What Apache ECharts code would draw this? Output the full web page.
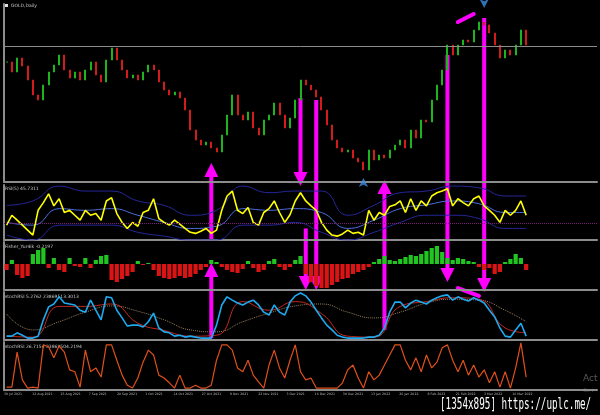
<!DOCTYPE html>
<html>
<head>
<meta charset="utf-8">
<script src="https://cdn.jsdelivr.net/npm/echarts@6/dist/echarts.min.js"></script>
<style>
  html, body { margin: 0; padding: 0; background: #000; }
  #chart { width: 600px; height: 415px; }
</style>
</head>
<body>
<div id="chart"></div>
<script>
// --- 数据 ---
const closes = [1940,1920,1948,1932,1904,1874,1864,1894,1920,1934,
  1954,1924,1908,1920,1904,1924,1940,1914,1900,1944,
  1968,1944,1924,1908,1914,1904,1920,1934,1924,1900,
  1884,1874,1880,1868,1844,1804,1784,1774,1780,1768,
  1760,1794,1834,1874,1834,1824,1840,1808,1794,1824,
  1834,1858,1834,1808,1828,1864,1904,1894,1884,1870,
  1844,1814,1784,1768,1760,1764,1748,1740,1724,1764,
  1744,1754,1748,1764,1774,1784,1768,1804,1788,1824,
  1820,1864,1894,1924,1974,1954,1974,1984,1980,2004,
  2020,2014,1998,1974,1948,1964,1954,1974,2004,1974];
const levelPrice = 1972;
const arrowUp = [[68, 1708]];
const arrowDown = [[91, 2048]];

const rsi = [27,45,36,27,18,9,54,68,84,62,
  75,50,54,45,36,54,45,48,36,71,
  77,48,32,21,32,25,50,54,75,39,
  32,27,36,29,21,14,12,16,21,12,
  18,54,80,89,54,48,59,32,27,50,
  57,71,50,32,46,71,86,71,62,54,
  32,18,9,7,11,18,12,14,9,54,
  36,50,45,61,64,71,50,75,54,71,
  62,80,86,89,93,62,75,68,62,75,
  80,62,54,45,32,54,45,54,71,45];
const bandIdx = [0,5,10,15,20,25,30,35,40,45,50,55,60,65,70,75,80,85,90,95,99];
const rsiUpper = [63,71,98,89,89,71,63,45,54,98,86,89,89,45,63,86,89,98,95,80,80];
const rsiMid = [32,27,57,54,57,45,32,21,25,57,54,57,50,21,36,57,64,71,66,50,50];
const rsiLower = [9,0,27,27,27,14,7,0,0,27,27,32,14,0,14,32,45,45,39,21,21];

const fisher = [-0.6,0.4,-1.1,-1.4,-1.2,1.0,1.4,1.6,-0.4,0.6,
  -0.6,-0.8,0.6,-0.2,-0.3,0.6,-0.4,0.4,0.8,0.9,
  -1.6,-1.8,-1.5,-1.2,-0.8,0.3,-0.1,0.1,-0.6,-1.2,
  -1.4,-1.5,-1.4,-1.2,-1.4,-1.3,-1.0,-0.6,-0.3,0.4,
  0.2,-0.3,-0.6,-0.8,-0.9,-0.5,0.3,-0.4,-0.8,-0.6,
  0.3,0.5,-0.3,-0.6,-0.3,0.4,0.8,-1.0,-1.8,-2.2,
  -2.4,-2.4,-2.1,-1.8,-1.5,-1.4,-1.0,-0.8,-0.6,-0.3,
  0.2,0.5,0.8,0.4,0.3,0.5,0.7,0.9,0.8,1.0,
  1.3,1.6,1.8,1.2,0.6,0.4,0.6,0.5,0.3,0.2,
  -0.3,-0.6,-0.4,-1.0,-0.8,0.2,0.5,1.0,0.6,-0.6];

const stoch = [8,8,15,10,4,4,8,42,69,75,
  90,77,75,73,62,58,83,62,42,90,
  88,62,46,29,31,31,27,38,56,25,
  17,15,8,10,6,8,6,4,4,4,
  31,73,90,83,77,73,79,83,73,58,
  52,73,58,52,79,92,98,92,79,62,
  46,31,21,10,6,4,4,4,4,6,
  6,10,25,58,79,79,67,77,83,79,
  75,83,88,92,94,83,90,85,81,88,
  83,77,62,48,25,8,6,21,35,8];
const stochSignal = [8,6,70,70,75,35,20,8,10,80,62,80,55,8,6,70,80,88,85,25,15];
const stochSlow = [54,21,38,58,71,60,42,21,17,38,56,71,75,58,46,58,77,85,83,62,38];

const stoch2 = [6,6,79,21,4,6,4,94,90,67,
  92,79,42,38,6,83,38,46,27,94,
  94,62,31,10,4,25,58,83,73,31,
  25,15,4,31,4,4,10,4,4,10,
  62,94,94,83,46,38,62,31,17,4,
  52,83,46,25,62,94,38,21,25,4,
  4,4,4,4,15,42,52,25,4,38,
  21,31,52,73,94,94,62,42,67,38,
  73,46,58,88,94,62,38,62,31,52,
  27,42,15,38,6,38,4,46,98,27];

const tickLabels = ['30 Jul 2021','12 Aug 2021','25 Aug 2021','7 Sep 2021','20 Sep 2021','1 Oct 2021',
  '14 Oct 2021','27 Oct 2021','9 Nov 2021','22 Nov 2021','3 Dec 2021','16 Dec 2021','30 Dec 2021',
  '13 Jan 2022','26 Jan 2022','8 Feb 2022','21 Feb 2022','3 Mar 2022','16 Mar 2022','','',''];

// 手绘箭头: [面板, 值]
const arrows = [
  { i: 39, from: [3, 4], to: [2, 0.1] },
  { i: 39, from: [1, 0], to: [0, 1738] },
  { i: 56, from: [0, 1868], to: [1, 98] },
  { i: 57, from: [1, 21], to: [3, 104] },
  { i: 59, from: [0, 1864], to: [3, 104] },
  { i: 72, from: [3, 21], to: [0, 1704] },
  { i: 84, from: [0, 1954], to: [2, -1.8] },
  { i: 91, from: [0, 2028], to: [3, 100] },
];
const strokes = [
  { g: 0, a: [86, 2020], b: [89, 2036] },
  { g: 3, a: [86, 108], b: [90, 92] },
];

const SHIFT = 13;
const cats = Array.from({ length: closes.length + SHIFT }, (_, i) => String(i));
const candles = closes.map((c, i) => {
  const o = i ? closes[i - 1] : c;
  return [o, c, Math.min(o, c), Math.max(o, c)];
});
const sparse = arr => bandIdx.map((k, j) => [k, arr[j]]);

// --- 布局 ---
const GREY = '#8c8c8c';
const grids = [
  { left: 4, right: 3, top: 4, height: 178 },
  { left: 4, right: 3, top: 185, height: 55 },
  { left: 4, right: 3, top: 242, height: 48 },
  { left: 4, right: 3, top: 292, height: 48 },
  { left: 4, right: 3, top: 342, height: 48 },
];
const yRange = [[1700, 2056], [0, 100], [-2.6, 2.2], [0, 100], [0, 100]];

const xAxes = grids.map((g, k) => ({
  type: 'category', gridIndex: k, data: cats, boundaryGap: true, position: 'bottom',
  axisLine: { onZero: false, lineStyle: { color: GREY, width: 2 } },
  axisTick: { show: false }, axisLabel: { show: false }, splitLine: { show: false },
}));
xAxes.push({
  type: 'category', gridIndex: 4, data: tickLabels, boundaryGap: false, position: 'bottom',
  axisLine: { show: false }, axisTick: { show: false }, splitLine: { show: false },
  axisLabel: { show: true, interval: 0, fontSize: 3.2, color: '#b4b4b4', align: 'left', margin: 3, fontFamily: 'DejaVu Sans' },
});
const yAxes = grids.map((g, k) => ({
  type: 'value', gridIndex: k, min: yRange[k][0], max: yRange[k][1],
  axisLine: { show: true, lineStyle: { color: GREY, width: 2 } },
  axisTick: { show: false }, axisLabel: { show: false }, splitLine: { show: false },
}));

const line = (name, k, data, color, width, extra) => Object.assign({
  name, type: 'line', xAxisIndex: k, yAxisIndex: k, data, showSymbol: false, silent: true,
  lineStyle: { color, width }, itemStyle: { color },
}, extra || {});

const chart = echarts.init(document.getElementById('chart'));
chart.setOption({
  backgroundColor: '#000',
  animation: false,
  grid: grids,
  xAxis: xAxes,
  yAxis: yAxes,
  series: [
    {
      name: 'GOLD', type: 'candlestick', xAxisIndex: 0, yAxisIndex: 0, data: candles, barWidth: 1.5,
      itemStyle: { color: '#1db41d', color0: '#d41b1b', borderColor: '#1db41d', borderColor0: '#d41b1b', borderWidth: 1 },
      markLine: { silent: true, symbol: 'none', label: { show: false }, lineStyle: { color: GREY, width: 1, type: 'solid' }, data: [{ yAxis: levelPrice }] },
    },
    { type: 'scatter', xAxisIndex: 0, yAxisIndex: 0, data: arrowUp, symbol: 'arrow', symbolSize: [7, 9], itemStyle: { color: '#3b8de0' } },
    { type: 'scatter', xAxisIndex: 0, yAxisIndex: 0, data: arrowDown, symbol: 'arrow', symbolRotate: 180, symbolSize: [7, 9], itemStyle: { color: '#3b8de0' } },
    line('upper', 1, sparse(rsiUpper), '#26269a', 1, { smooth: true }),
    line('lower', 1, sparse(rsiLower), '#26269a', 1, { smooth: true }),
    line('mid', 1, sparse(rsiMid), '#4a6ee0', 1, { smooth: true }),
    line('RSI', 1, rsi, '#ffff00', 1.6, {
      markLine: { silent: true, symbol: 'none', label: { show: false }, lineStyle: { color: '#7a1f7a', width: 1, type: 'dotted' }, data: [{ yAxis: 30 }] },
    }),
    {
      name: 'Fisher', type: 'bar', xAxisIndex: 2, yAxisIndex: 2, data: fisher, barWidth: '80%', silent: true,
      itemStyle: { color: p => (p.value >= 0 ? '#21c421' : '#d81414') },
    },
    line('slow', 3, sparse(stochSlow), '#9a8060', 1, { smooth: true, lineStyle: { color: '#9a8060', width: 1, type: 'dotted' } }),
    line('signal', 3, sparse(stochSignal), '#c02a1e', 1, { smooth: true }),
    line('stochRSI', 3, stoch, '#1eaaf0', 1.6),
    line('stochRSI2', 4, stoch2, '#e0501a', 1.2),
  ],
});

// --- 叠加标注 ---
const px = (g, i, v) => chart.convertToPixel({ xAxisIndex: g, yAxisIndex: g }, [i, v]);
const MAG = '#ff00ff';
const graphics = [];
arrows.forEach(a => {
  const p0 = px(a.from[0], a.i, a.from[1]);
  const p1 = px(a.to[0], a.i, a.to[1]);
  const dir = Math.sign(p1[1] - p0[1]);
  const base = p1[1] - dir * 14;
  graphics.push({ type: 'line', silent: true, shape: { x1: p0[0], y1: p0[1], x2: p1[0], y2: base }, style: { stroke: MAG, lineWidth: 4 } });
  graphics.push({ type: 'polygon', silent: true, shape: { points: [[p1[0], p1[1]], [p1[0] - 7, base], [p1[0] + 7, base]] }, style: { fill: MAG } });
});
strokes.forEach(s => {
  const p0 = px(s.g, s.a[0], s.a[1]);
  const p1 = px(s.g, s.b[0], s.b[1]);
  graphics.push({ type: 'line', silent: true, shape: { x1: p0[0], y1: p0[1], x2: p1[0], y2: p1[1] }, style: { stroke: MAG, lineWidth: 4, lineCap: 'round' } });
});

const small = (text, x, y) => ({ type: 'text', x, y, silent: true, style: { text, fill: '#c8c8c8', font: '4.5px "DejaVu Sans"' } });
graphics.push({ type: 'rect', x: 5, y: 4, silent: true, shape: { width: 3, height: 3 }, style: { fill: '#e0e0e0' } });
graphics.push(small('GOLD,Daily', 11, 3));
graphics.push(small('RSI(5) 45.7311', 5, 186));
graphics.push(small('Fisher_Yur4ik -0.2197', 5, 244));
graphics.push(small('stochRSI 5.2762 23869513.3013', 5, 294));
graphics.push(small('stochRSI 26.7154 23869504.2194', 5, 344));
graphics.push({ type: 'text', x: 583, y: 374, silent: true, style: { text: 'Act', fill: '#5a5a5a', font: '9px "DejaVu Sans"' } });
graphics.push({ type: 'text', x: 583, y: 388, silent: true, style: { text: 'Go t', fill: '#4a4a4a', font: '5px "DejaVu Sans"' } });
graphics.push({ type: 'rect', x: 432, y: 398, silent: true, shape: { width: 168, height: 17 }, style: { fill: '#000' } });
graphics.push({ type: 'text', x: 440, y: 398, scaleX: 0.62, silent: true, style: { text: '[1354x895] https://uplc.me/', fill: '#ffffff', font: '15px "DejaVu Sans Mono"' } });

chart.setOption({ graphic: graphics });
</script>
</body>
</html>
